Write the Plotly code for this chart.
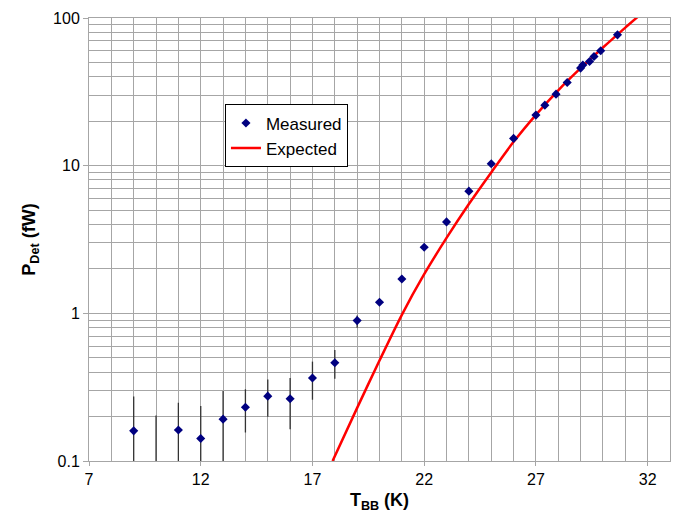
import plotly.graph_objects as go

# Measured data
t_meas = [9, 10, 11, 12, 13, 14, 15, 16, 17, 18, 19, 20, 21, 22, 23, 24, 25, 26, 27,
          27.4, 27.9, 28.4, 29.0, 29.1, 29.4, 29.6, 29.9, 30.65]
p_meas = [0.160, 0.090, 0.162, 0.142, 0.192, 0.231, 0.275, 0.264, 0.365, 0.463, 0.893,
          1.19, 1.71, 2.80, 4.16, 6.72, 10.3, 15.3, 22.0, 25.7, 30.5, 36.6, 45.8, 48.0,
          50.7, 54.8, 60.0, 76.9]
p_upper = [0.273, 0.203, 0.248, 0.236, 0.298, 0.306, 0.356, 0.365, 0.471, 0.565, 0.965,
           1.19, 1.71, 2.80, 4.16, 6.72, 10.3, 15.3, 22.0, 25.7, 30.5, 36.6, 45.8, 48.0,
           50.7, 54.8, 60.0, 76.9]
p_lower = [0.050, 0.050, 0.070, 0.050, 0.085, 0.156, 0.199, 0.164, 0.260, 0.360, 0.800,
           1.19, 1.71, 2.80, 4.16, 6.72, 10.3, 15.3, 22.0, 25.7, 30.5, 36.6, 45.8, 48.0,
           50.7, 54.8, 60.0, 76.9]

# Expected curve
t_exp = [17.9, 19.0, 20.0, 21.0, 22.0, 23.0, 24.0, 25.0, 26.0, 27.0, 28.0, 29.0, 30.0, 31.0, 31.8]
p_exp = [0.100, 0.229, 0.479, 0.977, 1.84, 3.24, 5.5, 9.0, 14.5, 22.1, 32.4, 45.7, 63.1, 86.1, 109.6]

x_ticks = [7, 12, 17, 22, 27, 32]
y_ticks = [0.1, 1, 10, 100]
y_labels = ["0.1", "1", "10", "100"]

err_plus = [u - p for u, p in zip(p_upper, p_meas)]
err_minus = [p - l for l, p in zip(p_lower, p_meas)]

FONT = "Liberation Sans, Arial, sans-serif"
GRID = "#a6a6a6"

fig = go.Figure()
fig.add_trace(go.Scatter(
    x=t_exp, y=p_exp, mode="lines", name="Expected",
    line=dict(color="#ff0000", width=2.5, shape="spline", smoothing=0.8), legendrank=2,
))
fig.add_trace(go.Scatter(
    x=t_meas, y=p_meas, mode="markers", name="Measured",
    marker=dict(symbol="diamond", size=7, color="#000080"),
    error_y=dict(type="data", symmetric=False, array=err_plus, arrayminus=err_minus,
                 color="#333333", thickness=1.3, width=0),
    legendrank=1,
))

fig.update_layout(
    width=677, height=515,
    margin=dict(l=89, r=7, t=18, b=54),
    paper_bgcolor="white", plot_bgcolor="white",
    font=dict(family=FONT, size=16, color="black"),
    showlegend=True,
    legend=dict(
        x=0.234, y=0.805, xanchor="left", yanchor="top",
        bgcolor="white", bordercolor="black", borderwidth=1,
        font=dict(size=17, family=FONT), tracegroupgap=2, itemwidth=30,
    ),
    xaxis=dict(
        range=[7, 33], tickvals=x_ticks, ticks="outside", ticklen=4, tickcolor=GRID,
        showgrid=True, gridcolor=GRID, gridwidth=1,
        minor=dict(dtick=1, tick0=7, showgrid=True, gridcolor=GRID, gridwidth=1),
        showline=True, linecolor=GRID, linewidth=1, mirror=True,
        zeroline=False,
        title=dict(text="<b>T<sub>BB</sub> (K)</b>", font=dict(size=18, family=FONT), standoff=6),
        tickfont=dict(size=16, family=FONT),
    ),
    yaxis=dict(
        type="log", range=[-1, 2], tickvals=y_ticks, ticktext=y_labels,
        ticks="outside", ticklen=5, tickcolor=GRID,
        showgrid=True, gridcolor=GRID, gridwidth=1,
        minor=dict(dtick="D1", showgrid=True, gridcolor=GRID, gridwidth=1),
        showline=True, linecolor=GRID, linewidth=1, mirror=True,
        zeroline=False,
        title=dict(text="<b>P<sub>Det</sub> (fW)</b>", font=dict(size=18, family=FONT), standoff=12),
        tickfont=dict(size=16, family=FONT),
    ),
)

fig.write_html("out.html")
